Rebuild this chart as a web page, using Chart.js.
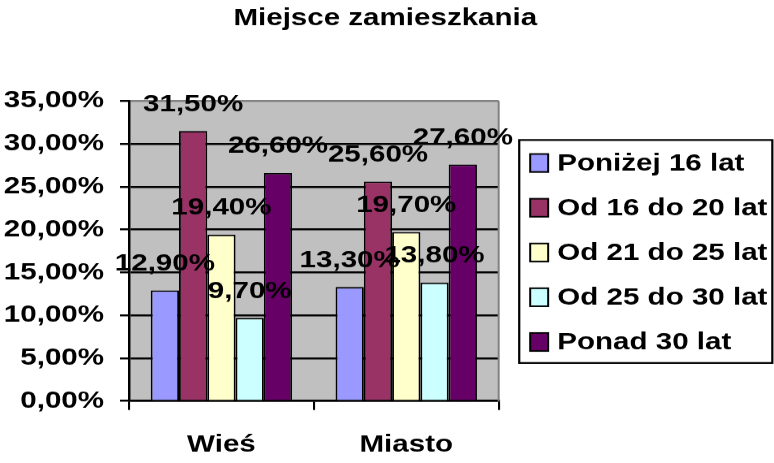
<!DOCTYPE html>
<html>
<head>
<meta charset="utf-8">
<script src="https://cdn.jsdelivr.net/npm/chart.js@4.4.1/dist/chart.umd.min.js"></script>
<style>
html, body { margin: 0; padding: 0; background: #fff; overflow: hidden; }
</style>
</head>
<body>
<canvas id="chart" width="629" height="463" style="display:block;width:774px;height:463px"></canvas>
<script>
// The original picture is stretched sideways, so the canvas is drawn narrower
// and widened with CSS (774 / 629).
const chartTitle = 'Miejsce zamieszkania';
const categories = ['Wieś', 'Miasto'];
const seriesNames = ['Poniżej 16 lat', 'Od 16 do 20 lat', 'Od 21 do 25 lat', 'Od 25 do 30 lat', 'Ponad 30 lat'];
const ponizej16 = [12.9, 13.3];
const od16do20 = [31.5, 25.6];
const od21do25 = [19.4, 19.7];
const od25do30 = [9.7, 13.8];
const ponad30 = [26.6, 27.6];
const yTicks = [0, 5, 10, 15, 20, 25, 30, 35];

const colors = ['#9999FF', '#993366', '#FFFFCC', '#CCFFFF', '#660066'];
const FONT = "'Liberation Sans', Arial, sans-serif";

const fmt = v => v.toFixed(2).replace('.', ',') + '%';

const excelLook = {
    id: 'excelLook',
    beforeDraw(chart) {
        const { ctx, chartArea: a } = chart;
        ctx.save();
        ctx.fillStyle = '#C0C0C0';
        ctx.fillRect(a.left, a.top, a.right - a.left, a.bottom - a.top);

        // title, centred over the whole picture
        ctx.fillStyle = '#000';
        ctx.font = 'bold 24px ' + FONT;
        ctx.textAlign = 'center';
        ctx.textBaseline = 'middle';
        ctx.fillText(chartTitle, 313, 18.4);
        ctx.restore();
    },
    afterDatasetsDraw(chart) {
        const { ctx, chartArea: a } = chart;
        ctx.save();
        // right edge of plot area
        ctx.strokeStyle = '#808080';
        ctx.lineWidth = 1.6;
        ctx.beginPath();
        ctx.moveTo(a.right, a.top);
        ctx.lineTo(a.right, a.bottom);
        ctx.stroke();

        // value labels above bars
        ctx.fillStyle = '#000';
        ctx.font = 'bold 24px ' + FONT;
        ctx.textAlign = 'center';
        ctx.textBaseline = 'alphabetic';
        chart.data.datasets.forEach((ds, i) => {
            chart.getDatasetMeta(i).data.forEach((el, j) => {
                ctx.fillText(fmt(ds.data[j]), el.x, el.y - 20);
            });
        });
        ctx.restore();
    },
    afterDraw(chart) {
        const ctx = chart.ctx;
        const boxL = 421.8, boxT = 140, boxR = 627.4, boxB = 363;
        ctx.save();
        ctx.fillStyle = '#fff';
        ctx.fillRect(boxL, boxT, boxR - boxL, boxB - boxT);
        ctx.strokeStyle = '#000';
        ctx.lineWidth = 1.8;
        ctx.strokeRect(boxL, boxT, boxR - boxL, boxB - boxT);

        ctx.font = 'bold 24px ' + FONT;
        ctx.textAlign = 'left';
        ctx.textBaseline = 'middle';
        chart.data.datasets.forEach((ds, i) => {
            const y = 163 + i * 44.75;
            ctx.fillStyle = ds.backgroundColor;
            ctx.fillRect(430.7, y - 9, 14.6, 18);
            ctx.lineWidth = 1.6;
            ctx.strokeStyle = '#000';
            ctx.strokeRect(430.7, y - 9, 14.6, 18);
            ctx.fillStyle = '#000';
            ctx.fillText(ds.label, 452.7, y + 1);
        });
        ctx.restore();
    }
};

const seriesValues = [ponizej16, od16do20, od21do25, od25do30, ponad30];

new Chart(document.getElementById('chart'), {
    type: 'bar',
    data: {
        labels: categories,
        datasets: seriesNames.map((name, i) => ({
            label: name,
            data: seriesValues[i],
            backgroundColor: colors[i],
            borderColor: '#000',
            borderWidth: 1.5,
            categoryPercentage: 0.765,
            barPercentage: 1
        }))
    },
    options: {
        responsive: false,
        devicePixelRatio: 1.231,
        animation: false,
        events: [],
        layout: { padding: { left: 0, right: 223.9, top: 101, bottom: 0 } },
        plugins: {
            legend: { display: false },
            tooltip: { enabled: false },
            title: { display: false }
        },
        scales: {
            x: {
                grid: {
                    display: true,
                    drawOnChartArea: false,
                    offset: true,
                    color: '#000',
                    lineWidth: 1.7,
                    tickLength: 9
                },
                border: { display: true, color: '#000', width: 2 },
                ticks: {
                    color: '#000',
                    padding: 20.6,
                    font: { family: FONT, size: 24, weight: 'bold', lineHeight: 1.2 }
                },
                afterFit(scale) { scale.height = 62; }
            },
            y: {
                min: 0,
                max: 35,
                afterBuildTicks(scale) { scale.ticks = yTicks.map(v => ({ value: v })); },
                grid: {
                    color: c => (c.tick && c.tick.value === 35 ? '#808080' : '#000'),
                    tickColor: '#000',
                    lineWidth: 2,
                    tickLength: 7.3
                },
                border: { display: true, color: '#000', width: 2 },
                ticks: {
                    color: '#000',
                    padding: 13,
                    font: { family: FONT, size: 24, weight: 'bold', lineHeight: 1.2 },
                    callback: v => fmt(v)
                },
                afterFit(scale) { scale.width = 104.8; }
            }
        }
    },
    plugins: [excelLook]
});
</script>
</body>
</html>
